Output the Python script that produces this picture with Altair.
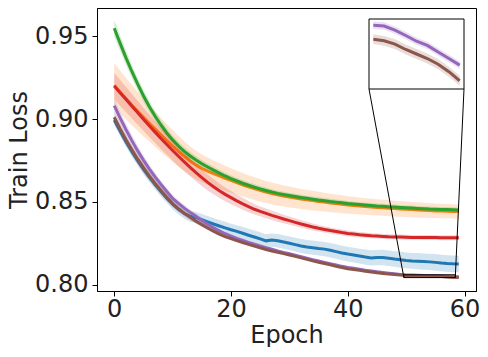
import altair as alt
import pandas as pd

epochs = list(range(60))
series_names = ["blue", "orange", "green", "red", "purple", "brown"]
series_colors = ["#1f77b4", "#ff7f0e", "#2ca02c", "#d62728", "#9467bd", "#8c564b"]

blue_mean = [0.8995, 0.8928, 0.8864, 0.8805, 0.8750, 0.8698, 0.8650, 0.8605, 0.8563, 0.8523,
             0.8486, 0.8455, 0.8430, 0.8414, 0.8405, 0.8393, 0.8380, 0.8367, 0.8355, 0.8343,
             0.8332, 0.8322, 0.8311, 0.8299, 0.8288, 0.8277, 0.8265, 0.8270, 0.8266, 0.8258,
             0.8250, 0.8242, 0.8234, 0.8228, 0.8224, 0.8219, 0.8215, 0.8208, 0.8200, 0.8192,
             0.8185, 0.8179, 0.8173, 0.8167, 0.8162, 0.8164, 0.8165, 0.8160, 0.8155, 0.8151,
             0.8147, 0.8144, 0.8142, 0.8140, 0.8138, 0.8135, 0.8131, 0.8128, 0.8126, 0.8125]
orange_mean = [0.9205, 0.9165, 0.9125, 0.9086, 0.9048, 0.9011, 0.8975, 0.8940, 0.8905, 0.8871,
               0.8838, 0.8806, 0.8776, 0.8748, 0.8724, 0.8703, 0.8686, 0.8671, 0.8657, 0.8643,
               0.8630, 0.8617, 0.8604, 0.8592, 0.8581, 0.8570, 0.8560, 0.8551, 0.8543, 0.8536,
               0.8530, 0.8524, 0.8518, 0.8513, 0.8508, 0.8503, 0.8499, 0.8494, 0.8490, 0.8486,
               0.8482, 0.8479, 0.8476, 0.8473, 0.8470, 0.8467, 0.8465, 0.8462, 0.8460, 0.8458,
               0.8456, 0.8454, 0.8452, 0.8450, 0.8448, 0.8446, 0.8445, 0.8444, 0.8443, 0.8442]
green_mean = [0.9550, 0.9460, 0.9372, 0.9290, 0.9213, 0.9142, 0.9077, 0.9018, 0.8965, 0.8917,
              0.8875, 0.8838, 0.8806, 0.8778, 0.8753, 0.8731, 0.8711, 0.8692, 0.8674, 0.8657,
              0.8641, 0.8627, 0.8613, 0.8601, 0.8590, 0.8579, 0.8569, 0.8560, 0.8552, 0.8545,
              0.8539, 0.8533, 0.8527, 0.8522, 0.8517, 0.8512, 0.8508, 0.8503, 0.8499, 0.8495,
              0.8491, 0.8488, 0.8485, 0.8482, 0.8479, 0.8476, 0.8474, 0.8471, 0.8469, 0.8467,
              0.8465, 0.8463, 0.8461, 0.8459, 0.8457, 0.8456, 0.8455, 0.8454, 0.8453, 0.8452]
red_mean = [0.9200, 0.9160, 0.9120, 0.9080, 0.9040, 0.9000, 0.8961, 0.8922, 0.8884, 0.8847,
            0.8811, 0.8776, 0.8742, 0.8709, 0.8677, 0.8647, 0.8618, 0.8592, 0.8568, 0.8546,
            0.8526, 0.8507, 0.8489, 0.8472, 0.8456, 0.8443, 0.8431, 0.8419, 0.8408, 0.8397,
            0.8387, 0.8377, 0.8367, 0.8358, 0.8349, 0.8341, 0.8334, 0.8327, 0.8321, 0.8315,
            0.8310, 0.8306, 0.8302, 0.8299, 0.8296, 0.8294, 0.8292, 0.8290, 0.8289, 0.8288,
            0.8287, 0.8286, 0.8286, 0.8285, 0.8285, 0.8285, 0.8284, 0.8284, 0.8284, 0.8284]
purple_mean = [0.9082, 0.9008, 0.8938, 0.8872, 0.8810, 0.8753, 0.8700, 0.8651, 0.8606, 0.8563,
               0.8522, 0.8492, 0.8463, 0.8437, 0.8413, 0.8388, 0.8365, 0.8344, 0.8325, 0.8308,
               0.8293, 0.8280, 0.8268, 0.8256, 0.8245, 0.8234, 0.8224, 0.8214, 0.8204, 0.8195,
               0.8187, 0.8178, 0.8169, 0.8160, 0.8151, 0.8143, 0.8135, 0.8127, 0.8119, 0.8111,
               0.8104, 0.8099, 0.8094, 0.8088, 0.8083, 0.8078, 0.8074, 0.8070, 0.8066, 0.8062,
               0.80585, 0.80583, 0.80573, 0.80560, 0.80546, 0.80536, 0.80520, 0.80504, 0.80488, 0.80475]
brown_mean = [0.9012, 0.8943, 0.8878, 0.8817, 0.8760, 0.8707, 0.8658, 0.8612, 0.8569, 0.8528,
              0.8490, 0.8460, 0.8432, 0.8407, 0.8384, 0.8363, 0.8343, 0.8324, 0.8306, 0.8290,
              0.8278, 0.8266, 0.8255, 0.8244, 0.8233, 0.8223, 0.8213, 0.8204, 0.8196, 0.8188,
              0.8180, 0.8171, 0.8162, 0.8153, 0.8144, 0.8136, 0.8128, 0.8120, 0.8112, 0.8104,
              0.8097, 0.8092, 0.8087, 0.8082, 0.8077, 0.8072, 0.8068, 0.8064, 0.8061, 0.8058,
              0.80551, 0.80547, 0.80539, 0.80526, 0.80515, 0.80504, 0.80490, 0.80472, 0.80450, 0.80432]

blue_std = [0.0030, 0.0030, 0.0030, 0.0030, 0.0030, 0.0030, 0.0030, 0.0030, 0.0030, 0.0030,
            0.0030, 0.0031, 0.0032, 0.0033, 0.0034, 0.0035, 0.0035, 0.0036, 0.0036, 0.0037,
            0.0037, 0.0038, 0.0038, 0.0039, 0.0039, 0.0040, 0.0040, 0.0040, 0.0041, 0.0041,
            0.0041, 0.0042, 0.0042, 0.0042, 0.0043, 0.0043, 0.0043, 0.0044, 0.0044, 0.0044,
            0.0045, 0.0045, 0.0045, 0.0046, 0.0046, 0.0046, 0.0047, 0.0047, 0.0047, 0.0048,
            0.0048, 0.0048, 0.0049, 0.0049, 0.0049, 0.0050, 0.0050, 0.0050, 0.0050, 0.0050]
orange_std = [0.0135, 0.0130, 0.0126, 0.0122, 0.0118, 0.0114, 0.0110, 0.0106, 0.0103, 0.0100,
              0.0097, 0.0094, 0.0091, 0.0088, 0.0086, 0.0084, 0.0082, 0.0080, 0.0078, 0.0076,
              0.0074, 0.0072, 0.0071, 0.0070, 0.0069, 0.0068, 0.0067, 0.0066, 0.0065, 0.0064,
              0.0063, 0.0062, 0.0061, 0.0060, 0.0059, 0.0058, 0.0057, 0.0056, 0.0055, 0.0054,
              0.0053, 0.0052, 0.0051, 0.0050, 0.0050, 0.0049, 0.0049, 0.0048, 0.0048, 0.0047,
              0.0047, 0.0046, 0.0046, 0.0045, 0.0045, 0.0044, 0.0044, 0.0043, 0.0043, 0.0043]
green_std = [0.0050, 0.0047, 0.0044, 0.0041, 0.0038, 0.0036, 0.0034, 0.0032, 0.0030, 0.0028,
             0.0027, 0.0026, 0.0025, 0.0024, 0.0023, 0.0022, 0.0021, 0.0021, 0.0020, 0.0020,
             0.0019, 0.0019, 0.0019, 0.0018, 0.0018, 0.0018, 0.0018, 0.0017, 0.0017, 0.0017,
             0.0017, 0.0017, 0.0016, 0.0016, 0.0016, 0.0016, 0.0016, 0.0016, 0.0016, 0.0015,
             0.0015, 0.0015, 0.0015, 0.0015, 0.0015, 0.0015, 0.0015, 0.0015, 0.0015, 0.0015,
             0.0015, 0.0015, 0.0015, 0.0015, 0.0015, 0.0015, 0.0015, 0.0015, 0.0015, 0.0015]
red_std = [0.0080, 0.0078, 0.0076, 0.0074, 0.0072, 0.0070, 0.0068, 0.0066, 0.0064, 0.0062,
           0.0060, 0.0058, 0.0056, 0.0054, 0.0052, 0.0050, 0.0048, 0.0046, 0.0044, 0.0042,
           0.0040, 0.0038, 0.0036, 0.0034, 0.0032, 0.0030, 0.0029, 0.0028, 0.0027, 0.0026,
           0.0025, 0.0024, 0.0023, 0.0022, 0.0021, 0.0020, 0.0019, 0.0019, 0.0018, 0.0018,
           0.0017, 0.0017, 0.0016, 0.0016, 0.0016, 0.0015, 0.0015, 0.0015, 0.0015, 0.0015,
           0.0015, 0.0015, 0.0015, 0.0015, 0.0015, 0.0015, 0.0015, 0.0015, 0.0015, 0.0015]
purple_std = [0.0040, 0.0038, 0.0036, 0.0034, 0.0032, 0.0030, 0.0028, 0.0026, 0.0024, 0.0022,
              0.0020, 0.0019, 0.0018, 0.0017, 0.0016, 0.0015, 0.0014, 0.0013, 0.0012, 0.0011,
              0.0010, 0.0009, 0.0009, 0.0008, 0.0008, 0.0007, 0.0007, 0.0006, 0.0006, 0.0005,
              0.0005, 0.0005, 0.0004, 0.0004, 0.0004, 0.0003, 0.0003, 0.0003, 0.0003, 0.0002,
              0.0002, 0.0002, 0.0002, 0.0002, 0.0002, 0.0002, 0.0002, 0.0002, 0.0002, 0.0002,
              0.00009, 0.00009, 0.00009, 0.00009, 0.00009, 0.00009, 0.00009, 0.00009, 0.00009, 0.00009]
brown_std = [0.0035, 0.0034, 0.0033, 0.0032, 0.0031, 0.0030, 0.0028, 0.0026, 0.0024, 0.0022,
             0.0020, 0.0019, 0.0018, 0.0017, 0.0016, 0.0015, 0.0014, 0.0013, 0.0012, 0.0011,
             0.0010, 0.0009, 0.0009, 0.0008, 0.0008, 0.0007, 0.0007, 0.0006, 0.0006, 0.0005,
             0.0005, 0.0005, 0.0004, 0.0004, 0.0004, 0.0003, 0.0003, 0.0003, 0.0003, 0.0003,
             0.0002, 0.0002, 0.0002, 0.0002, 0.0002, 0.0002, 0.0002, 0.0002, 0.0002, 0.0002,
             0.00012, 0.00012, 0.00012, 0.00012, 0.00012, 0.00012, 0.00012, 0.00012, 0.00012, 0.00012]

x_ticks = [0, 20, 40, 60]
y_ticks = [0.80, 0.85, 0.90, 0.95]
x_limits = [-2.95, 61.95]
y_limits = [0.7962, 0.9672]

# zoomed inset region (data coordinates)
inset_series = ["purple", "brown"]
inset_x = [49.6, 58.4]
inset_y = [0.8043, 0.8060]
inset_epochs = [50, 58]

# layout (pixels)
PLOT_W, PLOT_H = 379, 283
PAD = {"left": 89, "top": 0, "right": 4, "bottom": 56}
INSET_LEFT, INSET_RIGHT, INSET_TOP, INSET_BOTTOM = 272, 367, 11, 81

means = dict(zip(series_names, [blue_mean, orange_mean, green_mean, red_mean, purple_mean, brown_mean]))
stds = dict(zip(series_names, [blue_std, orange_std, green_std, red_std, purple_std, brown_std]))

rows = []
for name in series_names:
    for e, m, s in zip(epochs, means[name], stds[name]):
        rows.append({"series": name, "epoch": e, "mean": m, "lo": m - s, "hi": m + s})
df = pd.DataFrame(rows)

FONT = "DejaVu Sans"
x_main = alt.Scale(domain=x_limits, nice=False, zero=False)
y_main = alt.Scale(domain=y_limits, nice=False, zero=False)
x_axis = alt.Axis(title="Epoch", values=x_ticks, format="d", grid=False)
y_axis = alt.Axis(title="Train Loss", values=y_ticks, format=".2f", grid=False)

main_layers = []
for name, col in zip(series_names, series_colors):
    base = alt.Chart(df).transform_filter(alt.datum.series == name)
    band = base.mark_area(color=col, opacity=0.2, clip=True).encode(
        x=alt.X("epoch:Q", scale=x_main, axis=x_axis),
        y=alt.Y("lo:Q", scale=y_main, axis=y_axis),
        y2="hi:Q",
    )
    line = base.mark_line(color=col, strokeWidth=3, clip=True).encode(
        x=alt.X("epoch:Q", scale=x_main, axis=x_axis),
        y=alt.Y("mean:Q", scale=y_main, axis=y_axis),
    )
    main_layers += [band, line]

box_df = pd.DataFrame({"x1": [inset_x[0]], "x2": [inset_x[1]], "y1": [inset_y[0]], "y2": [inset_y[1]]})

zoom_rect = alt.Chart(box_df).mark_rect(fillOpacity=0, stroke="black", strokeWidth=1).encode(
    x=alt.X("x1:Q", scale=x_main, axis=x_axis), x2="x2:Q",
    y=alt.Y("y1:Q", scale=y_main, axis=y_axis), y2="y2:Q",
)
conn_left = alt.Chart(box_df).mark_rule(color="black", strokeWidth=1).encode(
    x=alt.X("x1:Q", scale=x_main, axis=x_axis), y=alt.Y("y1:Q", scale=y_main, axis=y_axis),
    x2=alt.value(INSET_LEFT), y2=alt.value(INSET_BOTTOM),
)
conn_right = alt.Chart(box_df).mark_rule(color="black", strokeWidth=1).encode(
    x=alt.X("x2:Q", scale=x_main, axis=x_axis), y=alt.Y("y1:Q", scale=y_main, axis=y_axis),
    x2=alt.value(INSET_RIGHT), y2=alt.value(INSET_BOTTOM),
)
main_layers += [zoom_rect, conn_left, conn_right]
main = alt.layer(*main_layers)

x_in = alt.Scale(domain=inset_x, range=[INSET_LEFT, INSET_RIGHT], nice=False, zero=False)
y_in = alt.Scale(domain=inset_y, range=[INSET_BOTTOM, INSET_TOP], nice=False, zero=False)

inset_layers = [
    alt.Chart(box_df).mark_rect(fill="white", stroke="black", strokeWidth=1).encode(
        x=alt.X("x1:Q", scale=x_in, axis=None), x2="x2:Q",
        y=alt.Y("y1:Q", scale=y_in, axis=None), y2="y2:Q",
    )
]
for name in inset_series:
    col = series_colors[series_names.index(name)]
    base = alt.Chart(df).transform_filter(
        (alt.datum.series == name) & (alt.datum.epoch >= inset_epochs[0]) & (alt.datum.epoch <= inset_epochs[1])
    )
    inset_layers.append(base.mark_area(color=col, opacity=0.2).encode(
        x=alt.X("epoch:Q", scale=x_in, axis=None),
        y=alt.Y("lo:Q", scale=y_in, axis=None), y2="hi:Q"))
    inset_layers.append(base.mark_line(color=col, strokeWidth=3).encode(
        x=alt.X("epoch:Q", scale=x_in, axis=None),
        y=alt.Y("mean:Q", scale=y_in, axis=None)))
inset = alt.layer(*inset_layers)

chart = alt.layer(main, inset).resolve_scale(x="independent", y="independent").properties(
    width=PLOT_W, height=PLOT_H, padding=PAD,
    autosize=alt.AutoSizeParams(type="none"),
).configure_view(stroke="black", strokeWidth=1).configure_axis(
    labelFont=FONT, titleFont=FONT, labelFontSize=24, titleFontSize=24,
    labelColor="#222222", titleColor="#222222", titleFontWeight="normal",
    domainColor="black", tickColor="black", tickSize=5,
).configure_axisX(labelPadding=1, titlePadding=2).configure_axisY(labelPadding=4, titlePadding=3)

chart.save("out.html", embed_options={"renderer": "svg", "actions": False})
